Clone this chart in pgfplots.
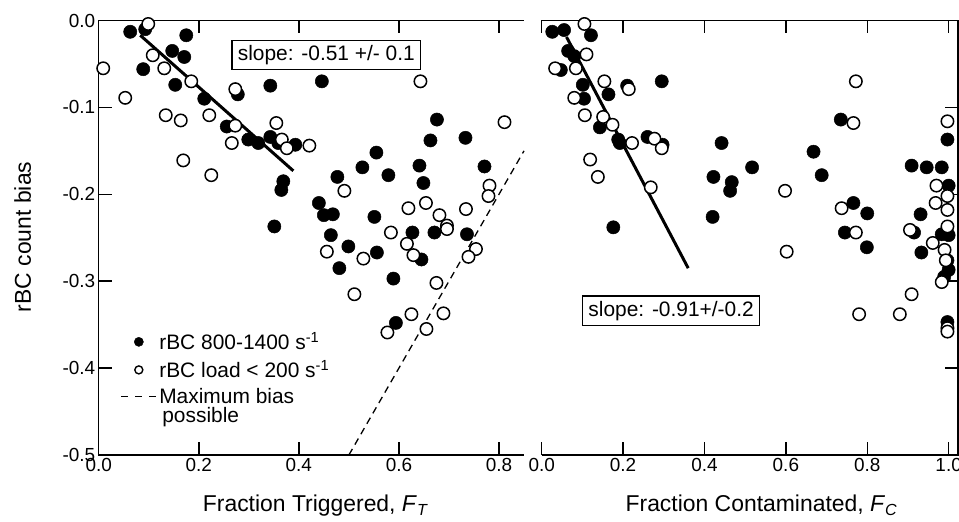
\documentclass[border=0pt]{standalone}
\usepackage{fontspec}
\setmainfont{Liberation Sans}
\usepackage{pgfplots}
\pgfplotsset{compat=1.18}
\newcommand\labfont{\fontsize{23}{27}\selectfont}
\newcommand\boxfont{\fontsize{21}{25}\selectfont}
\newcommand\legfont{\fontsize{21}{22}\selectfont}
\begin{document}
\begin{tikzpicture}
\useasboundingbox (0bp,0bp) rectangle (959bp,522bp);
\pgfplotsset{
 panel/.style={
  scale only axis, clip=false,
  height=434.5bp,
  ymin=-0.5, ymax=0,
  axis line style={draw=none},
  tick align=inside,
  major tick length=13bp,
  tick style={black, line width=1.5bp},
  xtick={0,0.2,0.4,0.6,0.8,1.0},
  ytick={-0.5,-0.4,-0.3,-0.2,-0.1,0},
  xtick pos=both, xticklabel pos=lower,
  tick label style={font=\fontsize{19}{22}\selectfont},
  xticklabel style={/pgf/number format/.cd, fixed, fixed zerofill, precision=1, assume math mode=true},
  yticklabel style={/pgf/number format/.cd, fixed, fixed zerofill, precision=1, assume math mode=true},
 },
 fm/.style={only marks, mark=*, mark size=6.6bp, mark options={fill=black, draw=black, line width=0.5bp}},
 om/.style={only marks, mark=*, mark size=6.2bp, mark options={fill=white, draw=black, line width=1.5bp}},
}
% ---------------- left panel ----------------
\begin{axis}[panel,
  at={(98.7bp,67bp)}, anchor=south west,
  width=425.3bp, xmin=0, xmax=0.85,
  ytick pos=left, yticklabel pos=left,
  xlabel={\labfont Fraction Triggered, \textit{F}\textsubscript{\textit{T}}},
  xlabel style={at={(axis description cs:0.51,-0.131)}, anchor=base, font=\labfont},
  ylabel={\labfont rBC count bias},
  ylabel style={at={(axis description cs:-0.1787,0.502)}, anchor=center, font=\labfont},
  legend style={at={(axis description cs:0.041,0.292)}, anchor=north west, draw=none, fill=none,
    font=\legfont, row sep=5bp},
  legend cell align=left,
]
\draw[line width=1.5bp] (rel axis cs:0,1) -- (rel axis cs:0,0) -- (rel axis cs:1,0);
\draw[line width=1.5bp] (rel axis cs:0,1) -- (rel axis cs:1,1);
\addplot[fm, legend image code/.code={\path[draw=none,fill=none] (0bp,0bp) -- (38bp,0bp); \fill[black] (19.5bp,0bp) circle (4.6bp);}] coordinates {
(0.063,-0.013) (0.093,-0.010) (0.175,-0.017) (0.089,-0.056) (0.147,-0.035)
(0.171,-0.042) (0.153,-0.074) (0.343,-0.075) (0.211,-0.090) (0.278,-0.085)
(0.256,-0.122) (0.299,-0.137) (0.319,-0.141) (0.343,-0.134) (0.359,-0.141)
(0.393,-0.143) (0.369,-0.185) (0.365,-0.195) (0.446,-0.070) (0.676,-0.114)
(0.663,-0.138) (0.733,-0.135) (0.555,-0.152) (0.527,-0.169) (0.579,-0.178)
(0.641,-0.167) (0.771,-0.168) (0.477,-0.180) (0.649,-0.187) (0.440,-0.210)
(0.450,-0.224) (0.468,-0.223) (0.551,-0.226) (0.351,-0.237) (0.464,-0.247)
(0.627,-0.244) (0.671,-0.244) (0.736,-0.246) (0.499,-0.260) (0.556,-0.267)
(0.645,-0.275) (0.481,-0.285) (0.589,-0.297) (0.594,-0.348)
};
\addlegendentry{\legfont rBC 800-1400 s\textsuperscript{-1}}
\addplot[om, legend image code/.code={\path[draw=none,fill=none] (0bp,0bp) -- (38bp,0bp); \draw[black, line width=1.4bp, fill=white] (19.5bp,0bp) circle (4bp);}] coordinates {
(0.099,-0.004) (0.009,-0.055) (0.053,-0.089) (0.108,-0.040) (0.131,-0.055)
(0.185,-0.070) (0.134,-0.109) (0.164,-0.115) (0.221,-0.109) (0.273,-0.079)
(0.273,-0.121) (0.266,-0.141) (0.355,-0.118) (0.366,-0.137) (0.376,-0.147)
(0.421,-0.144) (0.169,-0.161) (0.225,-0.178) (0.643,-0.070) (0.811,-0.117)
(0.491,-0.196) (0.781,-0.190) (0.779,-0.202) (0.619,-0.216) (0.654,-0.210)
(0.681,-0.224) (0.696,-0.236) (0.696,-0.240) (0.734,-0.217) (0.584,-0.244)
(0.616,-0.257) (0.456,-0.266) (0.529,-0.274) (0.629,-0.270) (0.754,-0.263)
(0.739,-0.272) (0.511,-0.315) (0.675,-0.302) (0.689,-0.337) (0.625,-0.338)
(0.577,-0.359) (0.655,-0.355)
};
\addlegendentry{\legfont rBC load \textless{} 200 s\textsuperscript{-1}}
\addplot[black, line width=1.3bp, dash pattern=on 7bp off 5bp,
  legend image code/.code={\draw[black, line width=1.3bp, dash pattern=on 7bp off 7bp] (2bp,0bp) -- (37bp,0bp);}]
  coordinates {(0.5,-0.5) (0.85,-0.15)};
\addlegendentry{\legfont\begin{tabular}[t]{@{}l@{}}Maximum bias\\[-3bp]\hspace{3bp}possible\end{tabular}}
\addplot[black, line width=3bp, forget plot] coordinates {(0.083,-0.017) (0.389,-0.173)};
\node[draw, line width=1.3bp, fill=white, inner xsep=6bp, inner ysep=5bp]
  at (axis cs:0.455,-0.0397) {\boxfont slope: -0.51 +/- 0.1};
\end{axis}
% ---------------- right panel ----------------
\begin{axis}[panel,
  at={(541.7bp,67bp)}, anchor=south west,
  width=416.3bp, xmin=0, xmax=1.023,
  ytick pos=right, yticklabels={},
  xlabel={\labfont Fraction Contaminated, \textit{F}\textsubscript{\textit{C}}},
  xlabel style={at={(axis description cs:0.528,-0.131)}, anchor=base, font=\labfont},
]
\draw[line width=1.5bp] (rel axis cs:0,1) -- (rel axis cs:1,1) -- (rel axis cs:1,0) -- (rel axis cs:0,0);
\addplot[fm] coordinates {
(0.026,-0.013) (0.055,-0.011) (0.121,-0.017) (0.065,-0.035) (0.080,-0.041)
(0.047,-0.057) (0.101,-0.074) (0.104,-0.090) (0.164,-0.085) (0.210,-0.075)
(0.295,-0.070) (0.143,-0.123) (0.188,-0.137) (0.192,-0.141) (0.260,-0.134)
(0.297,-0.143) (0.176,-0.238) (0.442,-0.141) (0.517,-0.169) (0.422,-0.180)
(0.467,-0.186) (0.463,-0.196) (0.420,-0.226) (0.735,-0.114) (0.668,-0.151)
(0.688,-0.178) (0.766,-0.210) (0.800,-0.222) (0.745,-0.244) (0.799,-0.261)
(0.909,-0.167) (0.946,-0.169) (0.983,-0.169) (0.997,-0.137) (1.000,-0.190)
(0.931,-0.223) (0.915,-0.244) (0.983,-0.246) (1.000,-0.247) (0.933,-0.267)
(0.997,-0.276) (1.000,-0.287) (0.989,-0.295) (0.997,-0.347)
};
\addplot[om] coordinates {
(0.105,-0.004) (0.110,-0.039) (0.033,-0.055) (0.084,-0.055) (0.154,-0.070)
(0.214,-0.079) (0.080,-0.089) (0.106,-0.109) (0.151,-0.111) (0.174,-0.120)
(0.222,-0.141) (0.277,-0.136) (0.295,-0.147) (0.119,-0.160) (0.138,-0.180)
(0.268,-0.192) (0.772,-0.070) (0.766,-0.118) (0.598,-0.196) (0.737,-0.216)
(0.772,-0.244) (0.602,-0.266) (0.997,-0.116) (0.970,-0.190) (0.997,-0.202)
(0.968,-0.210) (0.997,-0.218) (0.997,-0.237) (0.905,-0.241) (0.961,-0.256)
(0.990,-0.264) (0.993,-0.276) (0.983,-0.301) (0.909,-0.315) (0.780,-0.338)
(0.880,-0.338) (0.997,-0.354) (0.997,-0.358)
};
\addplot[black, line width=3bp] coordinates {(0.061,-0.019) (0.360,-0.285)};
\node[draw, line width=1.3bp, fill=white, inner xsep=6bp, inner ysep=5bp]
  at (axis cs:0.318,-0.334) {\boxfont slope: -0.91+/-0.2};
\end{axis}
\end{tikzpicture}
\end{document}
